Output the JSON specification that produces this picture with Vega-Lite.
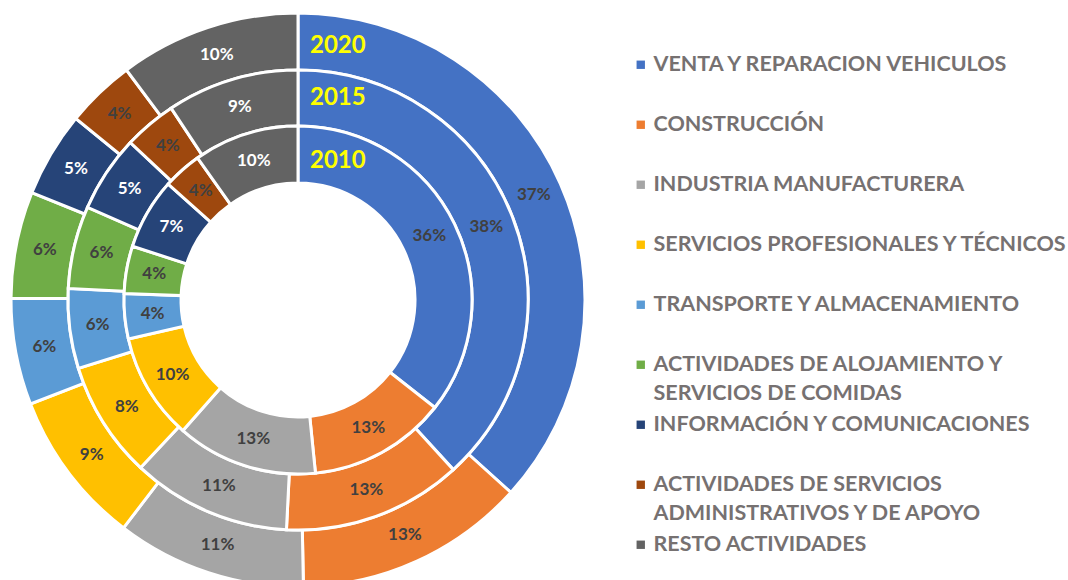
{
  "$schema": "https://vega.github.io/schema/vega-lite/v6.json",
  "width": 596,
  "height": 600,
  "padding": 0,
  "background": "white",
  "config": {
    "view": {"stroke": null},
    "font": "Lato",
    "style": {"guide-label": {"lineHeight": 29}},
    "legend": {
      "orient": "none",
      "legendX": 630,
      "legendY": 54,
      "padding": 0
    }
  },
  "data": {
    "values": [
      {"year": 2010, "idx": 0, "cat": "VENTA Y REPARACION VEHICULOS", "value": 0.356},
      {"year": 2010, "idx": 1, "cat": "CONSTRUCCIÓN", "value": 0.128},
      {"year": 2010, "idx": 2, "cat": "INDUSTRIA MANUFACTURERA", "value": 0.131},
      {"year": 2010, "idx": 3, "cat": "SERVICIOS PROFESIONALES Y TÉCNICOS", "value": 0.099},
      {"year": 2010, "idx": 4, "cat": "TRANSPORTE Y ALMACENAMIENTO", "value": 0.042},
      {"year": 2010, "idx": 5, "cat": "ACTIVIDADES DE ALOJAMIENTO Y SERVICIOS DE COMIDAS", "value": 0.044},
      {"year": 2010, "idx": 6, "cat": "INFORMACIÓN Y COMUNICACIONES", "value": 0.066},
      {"year": 2010, "idx": 7, "cat": "ACTIVIDADES DE SERVICIOS ADMINISTRATIVOS Y DE APOYO", "value": 0.036},
      {"year": 2010, "idx": 8, "cat": "RESTO ACTIVIDADES", "value": 0.098},
      {"year": 2015, "idx": 0, "cat": "VENTA Y REPARACION VEHICULOS", "value": 0.382},
      {"year": 2015, "idx": 1, "cat": "CONSTRUCCIÓN", "value": 0.126},
      {"year": 2015, "idx": 2, "cat": "INDUSTRIA MANUFACTURERA", "value": 0.112},
      {"year": 2015, "idx": 3, "cat": "SERVICIOS PROFESIONALES Y TÉCNICOS", "value": 0.082},
      {"year": 2015, "idx": 4, "cat": "TRANSPORTE Y ALMACENAMIENTO", "value": 0.056},
      {"year": 2015, "idx": 5, "cat": "ACTIVIDADES DE ALOJAMIENTO Y SERVICIOS DE COMIDAS", "value": 0.058},
      {"year": 2015, "idx": 6, "cat": "INFORMACIÓN Y COMUNICACIONES", "value": 0.054},
      {"year": 2015, "idx": 7, "cat": "ACTIVIDADES DE SERVICIOS ADMINISTRATIVOS Y DE APOYO", "value": 0.037},
      {"year": 2015, "idx": 8, "cat": "RESTO ACTIVIDADES", "value": 0.093},
      {"year": 2020, "idx": 0, "cat": "VENTA Y REPARACION VEHICULOS", "value": 0.367},
      {"year": 2020, "idx": 1, "cat": "CONSTRUCCIÓN", "value": 0.130},
      {"year": 2020, "idx": 2, "cat": "INDUSTRIA MANUFACTURERA", "value": 0.107},
      {"year": 2020, "idx": 3, "cat": "SERVICIOS PROFESIONALES Y TÉCNICOS", "value": 0.087},
      {"year": 2020, "idx": 4, "cat": "TRANSPORTE Y ALMACENAMIENTO", "value": 0.060},
      {"year": 2020, "idx": 5, "cat": "ACTIVIDADES DE ALOJAMIENTO Y SERVICIOS DE COMIDAS", "value": 0.060},
      {"year": 2020, "idx": 6, "cat": "INFORMACIÓN Y COMUNICACIONES", "value": 0.048},
      {"year": 2020, "idx": 7, "cat": "ACTIVIDADES DE SERVICIOS ADMINISTRATIVOS Y DE APOYO", "value": 0.039},
      {"year": 2020, "idx": 8, "cat": "RESTO ACTIVIDADES", "value": 0.102}
    ]
  },
  "layer": [
    {
      "transform": [{"filter": "datum.year == 2020"}],
      "mark": {"type": "arc", "radius": 287, "radius2": 230, "stroke": "white", "strokeWidth": 3},
      "encoding": {
        "theta": {"field": "value", "type": "quantitative", "stack": true},
        "order": {"field": "idx", "type": "quantitative"},
        "color": {
          "field": "cat", "type": "nominal", "sort": null,
          "scale": {
            "domain": ["VENTA Y REPARACION VEHICULOS", "CONSTRUCCIÓN", "INDUSTRIA MANUFACTURERA", "SERVICIOS PROFESIONALES Y TÉCNICOS", "TRANSPORTE Y ALMACENAMIENTO", "ACTIVIDADES DE ALOJAMIENTO Y SERVICIOS DE COMIDAS", "INFORMACIÓN Y COMUNICACIONES", "ACTIVIDADES DE SERVICIOS ADMINISTRATIVOS Y DE APOYO", "RESTO ACTIVIDADES"],
            "range": ["#4472C4", "#ED7D31", "#A5A5A5", "#FFC000", "#5B9BD5", "#70AD47", "#264478", "#9E480E", "#636363"]
          },
          "legend": {
            "title": null,
            "symbolType": "square",
            "symbolSize": 70,
            "symbolStrokeWidth": 0,
            "labelFont": "Lato",
            "labelFontSize": 21.5,
            "labelFontWeight": "bold",
            "labelColor": "#767171",
            "labelLimit": 600,
            "labelOffset": 2,
            "gridAlign": "all",
            "rowPadding": 8,
            "labelExpr": "datum.label == 'ACTIVIDADES DE ALOJAMIENTO Y SERVICIOS DE COMIDAS' ? ['ACTIVIDADES DE ALOJAMIENTO Y', 'SERVICIOS DE COMIDAS'] : datum.label == 'ACTIVIDADES DE SERVICIOS ADMINISTRATIVOS Y DE APOYO' ? ['ACTIVIDADES DE SERVICIOS', 'ADMINISTRATIVOS Y DE APOYO'] : datum.label"
          }
        }
      }
    },
    {
      "transform": [{"filter": "datum.year == 2015"}],
      "mark": {"type": "arc", "radius": 230, "radius2": 174, "stroke": "white", "strokeWidth": 3},
      "encoding": {
        "theta": {"field": "value", "type": "quantitative", "stack": true},
        "order": {"field": "idx", "type": "quantitative"},
        "color": {"field": "cat", "type": "nominal", "sort": null}
      }
    },
    {
      "transform": [{"filter": "datum.year == 2010"}],
      "mark": {"type": "arc", "radius": 174, "radius2": 117, "stroke": "white", "strokeWidth": 3},
      "encoding": {
        "theta": {"field": "value", "type": "quantitative", "stack": true},
        "order": {"field": "idx", "type": "quantitative"},
        "color": {"field": "cat", "type": "nominal", "sort": null}
      }
    },
    {
      "transform": [{"filter": "datum.year == 2020"}],
      "mark": {"type": "text", "radius": 258, "fontSize": 17, "fontWeight": "bold", "font": "Lato"},
      "encoding": {
        "theta": {"field": "value", "type": "quantitative", "stack": true},
        "order": {"field": "idx", "type": "quantitative"},
        "text": {"field": "value", "type": "quantitative", "format": ".0%"},
        "color": {"condition": {"test": "datum.idx == 6 || datum.idx == 8", "value": "white"}, "value": "#404040"}
      }
    },
    {
      "transform": [{"filter": "datum.year == 2015"}],
      "mark": {"type": "text", "radius": 202, "fontSize": 17, "fontWeight": "bold", "font": "Lato"},
      "encoding": {
        "theta": {"field": "value", "type": "quantitative", "stack": true},
        "order": {"field": "idx", "type": "quantitative"},
        "text": {"field": "value", "type": "quantitative", "format": ".0%"},
        "color": {"condition": {"test": "datum.idx == 6 || datum.idx == 8", "value": "white"}, "value": "#404040"}
      }
    },
    {
      "transform": [{"filter": "datum.year == 2010"}],
      "mark": {"type": "text", "radius": 146, "fontSize": 17, "fontWeight": "bold", "font": "Lato"},
      "encoding": {
        "theta": {"field": "value", "type": "quantitative", "stack": true},
        "order": {"field": "idx", "type": "quantitative"},
        "text": {"field": "value", "type": "quantitative", "format": ".0%"},
        "color": {"condition": {"test": "datum.idx == 6 || datum.idx == 8", "value": "white"}, "value": "#404040"}
      }
    },
    {
      "transform": [{"filter": "datum.idx == 0 && datum.year == 2020"}],
      "mark": {"type": "text", "radius": 254, "theta": 0, "fontSize": 24, "fontWeight": "bold", "font": "Lato", "color": "#FFFF00", "align": "left", "baseline": "middle", "dx": 12},
      "encoding": {"text": {"field": "year", "type": "nominal"}}
    },
    {
      "transform": [{"filter": "datum.idx == 0 && datum.year == 2015"}],
      "mark": {"type": "text", "radius": 202, "theta": 0, "fontSize": 24, "fontWeight": "bold", "font": "Lato", "color": "#FFFF00", "align": "left", "baseline": "middle", "dx": 12},
      "encoding": {"text": {"field": "year", "type": "nominal"}}
    },
    {
      "transform": [{"filter": "datum.idx == 0 && datum.year == 2010"}],
      "mark": {"type": "text", "radius": 139, "theta": 0, "fontSize": 24, "fontWeight": "bold", "font": "Lato", "color": "#FFFF00", "align": "left", "baseline": "middle", "dx": 12},
      "encoding": {"text": {"field": "year", "type": "nominal"}}
    }
  ]
}
